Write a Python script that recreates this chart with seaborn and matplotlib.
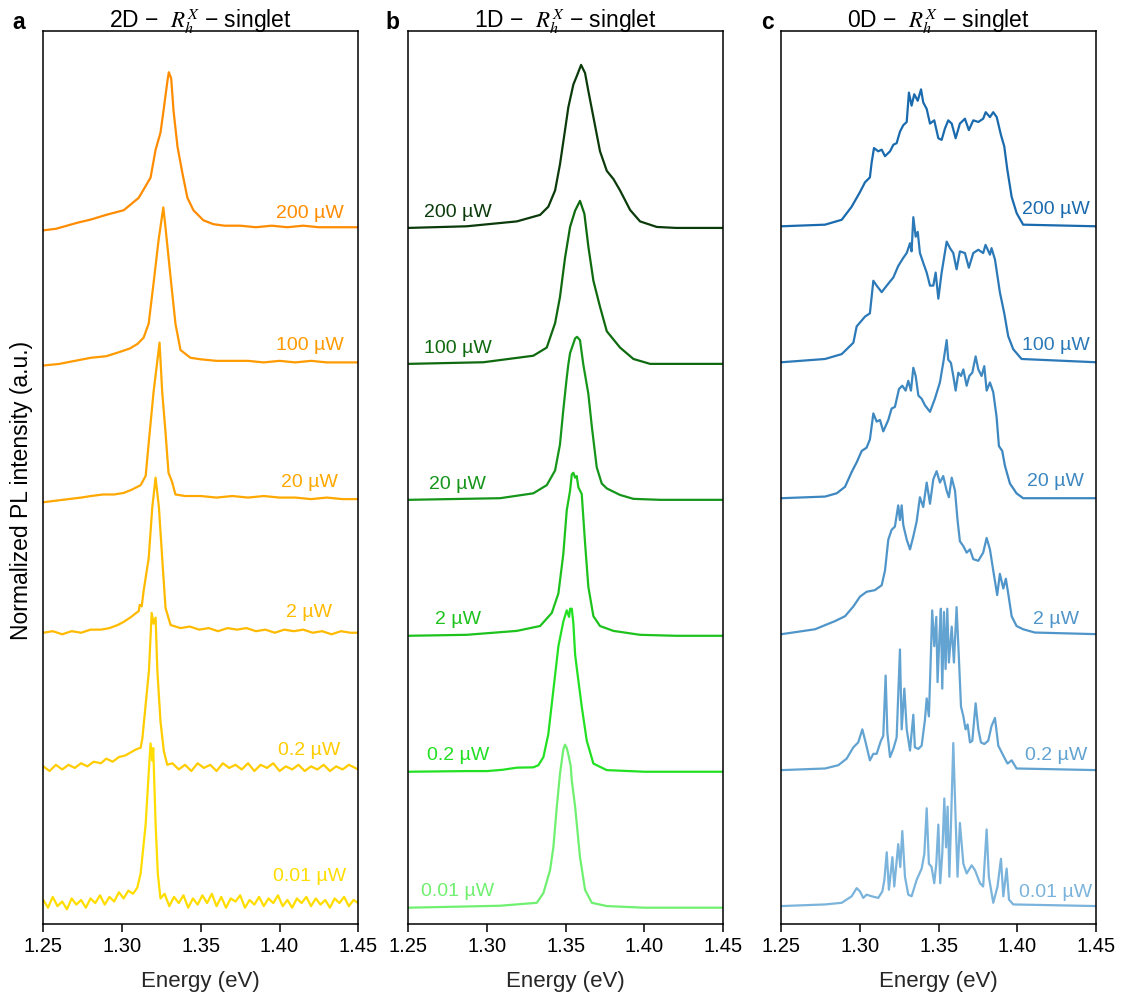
import matplotlib
matplotlib.use("Agg")
import matplotlib.pyplot as plt
import pandas as pd
import seaborn as sns

# ---------------- data (normalized PL intensity vs energy in eV) ----------------
POWERS = ["200 µW", "100 µW", "20 µW", "2 µW", "0.2 µW", "0.01 µW"]
X_TICKS = [1.25, 1.30, 1.35, 1.40, 1.45]

# ---- panel a: 2D ----
a_e_200 = [1.250, 1.258, 1.265, 1.272, 1.2803, 1.290, 1.3011, 1.3106, 1.3181, 1.3213, 1.3244, 1.3263,
           1.3289, 1.3297, 1.3312, 1.3327, 1.3352, 1.3383, 1.3415, 1.3453, 1.3516, 1.3579, 1.365, 1.375,
           1.385, 1.395, 1.405, 1.415, 1.425, 1.435, 1.450]
a_i_200 = [-0.02, -0.01, 0.01, 0.03, 0.05, 0.08, 0.11, 0.19, 0.32, 0.50, 0.61, 0.75,
           0.95, 1.0, 0.96, 0.75, 0.52, 0.35, 0.19, 0.11, 0.045, 0.02, 0.01, 0.01,
           0.0, 0.01, 0.0, 0.01, 0.0, 0.0, 0.0]
a_e_100 = [1.250, 1.260, 1.270, 1.2803, 1.290, 1.2978, 1.305, 1.3099, 1.3137, 1.3169, 1.3200, 1.3232,
           1.3262, 1.3276, 1.3308, 1.3339, 1.3371, 1.3434, 1.350, 1.360, 1.370, 1.380, 1.390, 1.400,
           1.410, 1.420, 1.430, 1.440, 1.450]
a_i_100 = [-0.02, -0.01, 0.01, 0.03, 0.04, 0.065, 0.09, 0.12, 0.16, 0.25, 0.51, 0.79,
           1.0, 0.87, 0.55, 0.25, 0.08, 0.03, 0.02, 0.01, 0.01, 0.01, 0.0, 0.01,
           0.0, 0.01, 0.0, 0.0, 0.0]
a_e_20 = [1.250, 1.258, 1.266, 1.274, 1.2803, 1.288, 1.295, 1.3011, 1.306, 1.3118, 1.3150, 1.3169,
          1.3200, 1.3238, 1.3255, 1.3276, 1.3295, 1.3318, 1.3339, 1.340, 1.350, 1.360, 1.370, 1.380,
          1.390, 1.400, 1.410, 1.420, 1.430, 1.440, 1.450]
a_i_20 = [-0.03, -0.02, -0.01, 0.0, 0.01, 0.02, 0.02, 0.03, 0.05, 0.08, 0.14, 0.35,
          0.68, 1.0, 0.68, 0.42, 0.16, 0.10, 0.02, 0.01, 0.01, 0.0, 0.01, 0.0,
          0.01, 0.0, 0.0, -0.01, 0.0, -0.01, -0.01]
a_e_2 = [1.250, 1.256, 1.262, 1.268, 1.274, 1.280, 1.2866, 1.292, 1.2973, 1.301, 1.3055, 1.308,
         1.3106, 1.3112, 1.3125, 1.3137, 1.3169, 1.3192, 1.3213, 1.3234, 1.3255, 1.3276, 1.3308, 1.3371,
         1.343, 1.349, 1.355, 1.361, 1.367, 1.373, 1.379, 1.385, 1.391, 1.397, 1.403, 1.409,
         1.415, 1.421, 1.427, 1.433, 1.439, 1.445, 1.450]
a_i_2 = [0.0, 0.01, -0.01, 0.01, 0.0, 0.02, 0.02, 0.03, 0.05, 0.07, 0.10, 0.12,
         0.14, 0.18, 0.17, 0.27, 0.48, 0.81, 1.0, 0.81, 0.48, 0.16, 0.05, 0.03,
         0.04, 0.02, 0.03, 0.01, 0.03, 0.02, 0.03, 0.01, 0.02, 0.0, 0.02, 0.01,
         0.02, 0.0, 0.01, -0.01, 0.01, 0.0, 0.0]
a_e_02 = [1.250, 1.254, 1.258, 1.262, 1.266, 1.270, 1.274, 1.278, 1.282, 1.2866,
          1.290, 1.294, 1.298, 1.302, 1.3055, 1.309, 1.3118, 1.3129, 1.3150, 1.3171,
          1.3188, 1.3200, 1.3213, 1.3224, 1.3244, 1.3265, 1.3287,
          1.332, 1.336, 1.340, 1.344, 1.348, 1.352, 1.356, 1.360, 1.364, 1.368, 1.372, 1.376,
          1.380, 1.384, 1.388, 1.392, 1.396, 1.400, 1.404, 1.408, 1.412, 1.416, 1.420, 1.424,
          1.428, 1.432, 1.436, 1.440, 1.444, 1.450]
a_i_02 = [0.01, -0.02, 0.02, -0.01, 0.02, 0.0, 0.03, 0.01, 0.04, 0.03,
          0.06, 0.04, 0.07, 0.08, 0.10, 0.12, 0.13, 0.19, 0.41, 0.63,
          1.0, 0.93, 0.97, 0.63, 0.30, 0.11, 0.02,
          0.03, -0.01, 0.02, -0.02, 0.03, 0.0, 0.02, -0.02, 0.03, 0.0, 0.02, -0.01,
          0.03, -0.02, 0.02, 0.0, 0.03, -0.02, 0.01, -0.01, 0.02, -0.02, 0.01, -0.01,
          0.02, -0.02, 0.01, -0.01, 0.02, -0.01]
a_e_001 = [1.250, 1.253, 1.256, 1.259, 1.262, 1.265, 1.268, 1.271, 1.274, 1.277,
           1.280, 1.283, 1.286, 1.289, 1.292, 1.295, 1.298, 1.301, 1.304, 1.307,
           1.3097, 1.3118, 1.3150, 1.3171, 1.3181, 1.3192, 1.3198, 1.3213, 1.3227, 1.3244,
           1.327, 1.330, 1.333, 1.336, 1.339, 1.342, 1.345, 1.348, 1.351, 1.354,
           1.357, 1.360, 1.363, 1.366, 1.369, 1.372, 1.375, 1.378, 1.381, 1.384,
           1.387, 1.390, 1.393, 1.396, 1.399, 1.402, 1.405, 1.408, 1.411, 1.414,
           1.417, 1.420, 1.423, 1.426, 1.429, 1.432, 1.435, 1.438, 1.441, 1.444,
           1.447, 1.450]
a_i_001 = [0.02, -0.03, 0.04, -0.02, 0.01, -0.04, 0.03, -0.01, 0.02, -0.03,
           0.03, 0.0, 0.05, -0.01, 0.04, 0.01, 0.07, 0.03, 0.08, 0.06,
           0.10, 0.19, 0.51, 0.87, 1.03, 0.92, 1.0, 0.51, 0.19, 0.03,
           0.06, -0.02, 0.04, 0.0, 0.05, -0.03, 0.03, -0.01, 0.05, 0.0,
           0.06, -0.02, 0.04, -0.03, 0.03, 0.01, 0.05, -0.03, 0.02, -0.01,
           0.04, -0.02, 0.03, 0.0, 0.05, -0.02, 0.02, -0.03, 0.03, 0.0,
           0.04, -0.02, 0.03, -0.01, 0.02, -0.03, 0.03, 0.0, 0.04, -0.02,
           0.02, 0.0]

# ---- panel b: 1D ----
b_e_200 = [1.2502, 1.2872, 1.3190, 1.3338, 1.3390, 1.3433, 1.3464, 1.3496, 1.3517, 1.3549, 1.3570, 1.3598,
           1.3623, 1.3644, 1.3676, 1.3718, 1.3761, 1.3803, 1.3845, 1.3909, 1.3972, 1.4078, 1.4200, 1.4500]
b_i_200 = [0, 0.01, 0.04, 0.08, 0.13, 0.23, 0.39, 0.60, 0.74, 0.88, 0.93, 1.0,
           0.95, 0.84, 0.68, 0.47, 0.35, 0.30, 0.23, 0.11, 0.04, 0.006, 0, 0]
b_e_100 = [1.2502, 1.2978, 1.3295, 1.3380, 1.3433, 1.3464, 1.3496, 1.3528, 1.3560, 1.3591,
           1.3619, 1.3644, 1.3676, 1.3718, 1.3761, 1.3803, 1.3845, 1.3930, 1.4036, 1.4500]
b_i_100 = [0, 0.01, 0.05, 0.10, 0.25, 0.41, 0.65, 0.84, 0.94, 1.0,
           0.92, 0.72, 0.51, 0.35, 0.20, 0.15, 0.10, 0.03, 0.0, 0]
b_e_20 = [1.2502, 1.3084, 1.3295, 1.3380, 1.3433, 1.3464, 1.3485, 1.3507, 1.3517, 1.3528, 1.3560, 1.3572,
          1.3591, 1.3612, 1.3644, 1.3666, 1.3697, 1.3729, 1.3761, 1.3803, 1.3845, 1.3930, 1.4100, 1.4500]
b_i_20 = [0, 0.01, 0.04, 0.09, 0.18, 0.34, 0.55, 0.75, 0.83, 0.90, 0.99, 1.0,
          0.98, 0.83, 0.65, 0.45, 0.20, 0.10, 0.07, 0.05, 0.03, 0.006, 0, 0]
b_e_2 = [1.2502, 1.2872, 1.3190, 1.3338, 1.3412, 1.3454, 1.3485, 1.3507, 1.3528, 1.3539, 1.3549, 1.3560,
         1.3570, 1.3581, 1.3602, 1.3623, 1.3644, 1.3676, 1.3718, 1.3803, 1.3972, 1.4200, 1.4500]
b_i_2 = [0, 0.006, 0.03, 0.06, 0.14, 0.26, 0.50, 0.77, 0.89, 0.99, 1.0, 0.97,
         0.98, 0.91, 0.87, 0.57, 0.30, 0.12, 0.06, 0.03, 0.006, 0, 0]
b_e_02 = [1.2502, 1.2872, 1.3000, 1.3100, 1.3190, 1.3295, 1.3327, 1.3359, 1.3390, 1.3422, 1.3454, 1.3485,
          1.3507, 1.3522, 1.3528, 1.3539, 1.3549, 1.3560, 1.3570, 1.3602, 1.3634, 1.3676, 1.3761, 1.4000,
          1.4500]
b_i_02 = [0, 0.004, 0.004, 0.012, 0.025, 0.027, 0.04, 0.09, 0.23, 0.50, 0.77, 0.92,
          0.99, 0.95, 1.0, 1.0, 0.91, 0.72, 0.64, 0.40, 0.19, 0.05, 0.01, 0,
          0]
b_e_001 = [1.2502, 1.2800, 1.3084, 1.3317, 1.3359, 1.3401, 1.3422, 1.3444, 1.3464, 1.3485, 1.3496,
           1.3507, 1.3517, 1.3532, 1.3539, 1.3560, 1.3591, 1.3623, 1.3666, 1.3761, 1.4000, 1.4500]
b_i_001 = [0, 0.006, 0.012, 0.03, 0.09, 0.23, 0.37, 0.62, 0.82, 0.97, 1.0,
           0.98, 0.94, 0.87, 0.78, 0.62, 0.31, 0.11, 0.03, 0.01, 0, 0]

# ---- panel c: 0D ----
c_e_200 = [1.2502, 1.2778, 1.2884, 1.2947, 1.3000, 1.3032, 1.3063, 1.3074, 1.3089, 1.3116,
           1.3138, 1.3159, 1.3191, 1.3212, 1.3233, 1.3254, 1.3275, 1.3297, 1.3311, 1.3328,
           1.3345, 1.3367, 1.3388, 1.3402, 1.3424, 1.3445, 1.3472, 1.3498, 1.3519, 1.3540,
           1.3561, 1.3583, 1.3608, 1.3635, 1.3667, 1.3692, 1.3720, 1.3752, 1.3783, 1.3799,
           1.3826, 1.3847, 1.3869, 1.3896, 1.3917, 1.3936, 1.3964, 1.3996, 1.4037, 1.4500]
c_i_200 = [0, 0.01, 0.04, 0.12, 0.21, 0.27, 0.30, 0.39, 0.48, 0.46,
           0.47, 0.43, 0.46, 0.50, 0.51, 0.58, 0.62, 0.64, 0.82, 0.74,
           0.81, 0.77, 0.84, 0.76, 0.72, 0.63, 0.65, 0.54, 0.53, 0.60,
           0.65, 0.63, 0.54, 0.63, 0.66, 0.59, 0.65, 0.64, 0.66, 0.70,
           0.67, 0.70, 0.67, 0.56, 0.49, 0.35, 0.18, 0.08, 0.01, 0]
c_e_100 = [1.2502, 1.2778, 1.2884, 1.2958, 1.2979, 1.3032, 1.3063, 1.3085, 1.3106, 1.3138,
           1.3170, 1.3212, 1.3243, 1.3275, 1.3297, 1.3318, 1.3328, 1.3339, 1.3354, 1.3367,
           1.3381, 1.3402, 1.3424, 1.3445, 1.3466, 1.3481, 1.3498, 1.3519, 1.3551, 1.3572,
           1.3593, 1.3614, 1.3635, 1.3667, 1.3692, 1.3720, 1.3752, 1.3783, 1.3798, 1.3826,
           1.3836, 1.3858, 1.3889, 1.3917, 1.3942, 1.3974, 1.4027, 1.4500]
c_i_100 = [0, 0.02, 0.05, 0.12, 0.22, 0.28, 0.30, 0.50, 0.47, 0.43,
           0.47, 0.52, 0.59, 0.64, 0.67, 0.73, 0.68, 0.89, 0.77, 0.80,
           0.67, 0.61, 0.55, 0.47, 0.47, 0.55, 0.39, 0.55, 0.74, 0.70,
           0.67, 0.57, 0.68, 0.67, 0.58, 0.67, 0.69, 0.67, 0.72, 0.66,
           0.70, 0.63, 0.43, 0.30, 0.16, 0.08, 0.02, 0]
c_e_20 = [1.2502, 1.2778, 1.2852, 1.2905, 1.2947, 1.2979, 1.3011, 1.3042, 1.3063, 1.3085,
          1.3106, 1.3127, 1.3148, 1.3180, 1.3201, 1.3222, 1.3248, 1.3269, 1.3290, 1.3307,
          1.3324, 1.3339, 1.3354, 1.3371, 1.3392, 1.3413, 1.3445, 1.3476, 1.3508, 1.3529,
          1.3551, 1.3561, 1.3578, 1.3593, 1.3608, 1.3625, 1.3642, 1.3657, 1.3678, 1.3695,
          1.3714, 1.3735, 1.3752, 1.3773, 1.3790, 1.3805, 1.3826, 1.3847, 1.3868, 1.3883,
          1.3904, 1.3921, 1.3953, 1.3995, 1.4037, 1.4500]
c_i_20 = [0, 0.01, 0.03, 0.07, 0.16, 0.22, 0.29, 0.31, 0.36, 0.52,
          0.47, 0.48, 0.41, 0.48, 0.55, 0.56, 0.67, 0.69, 0.66, 0.72,
          0.66, 0.80, 0.75, 0.63, 0.61, 0.57, 0.53, 0.61, 0.71, 0.83,
          0.97, 0.85, 0.83, 0.75, 0.66, 0.77, 0.75, 0.79, 0.69, 0.75,
          0.77, 0.87, 0.79, 0.75, 0.81, 0.66, 0.71, 0.65, 0.50, 0.32,
          0.29, 0.20, 0.09, 0.03, 0.0, 0]
c_e_2 = [1.2502, 1.2714, 1.2841, 1.2905, 1.2958, 1.3000, 1.3042, 1.3095, 1.3138, 1.3159,
         1.3180, 1.3201, 1.3222, 1.3243, 1.3254, 1.3265, 1.3275, 1.3297, 1.3318, 1.3339,
         1.3360, 1.3381, 1.3402, 1.3424, 1.3445, 1.3466, 1.3487, 1.3508, 1.3529, 1.3551,
         1.3565, 1.3583, 1.3604, 1.3620, 1.3635, 1.3657, 1.3678, 1.3699, 1.3720, 1.3752,
         1.3783, 1.3805, 1.3826, 1.3847, 1.3872, 1.3889, 1.3911, 1.3927, 1.3942, 1.3964,
         1.3995, 1.4037, 1.4111, 1.4500]
c_i_2 = [0, 0.03, 0.08, 0.11, 0.17, 0.23, 0.26, 0.27, 0.30, 0.39,
         0.58, 0.64, 0.66, 0.79, 0.70, 0.79, 0.67, 0.58, 0.52, 0.60,
         0.69, 0.84, 0.78, 0.93, 0.80, 0.95, 1.0, 0.93, 0.97, 0.88,
         0.84, 0.96, 0.88, 0.70, 0.57, 0.54, 0.50, 0.52, 0.46, 0.45,
         0.50, 0.59, 0.52, 0.39, 0.24, 0.37, 0.28, 0.34, 0.25, 0.11,
         0.05, 0.03, 0.01, 0]
c_e_02 = [1.2502, 1.2778, 1.2862, 1.2915, 1.2958, 1.2989, 1.3015, 1.3036, 1.3063, 1.3085,
          1.3106, 1.3133, 1.3148, 1.3163, 1.3174, 1.3191, 1.3212, 1.3233, 1.3254, 1.3265,
          1.3282, 1.3297, 1.3318, 1.3339, 1.3349, 1.3371, 1.3392, 1.3413, 1.3424, 1.3438,
          1.3451, 1.3459, 1.3472, 1.3485, 1.3493, 1.3506, 1.3514, 1.3523, 1.3534, 1.3544,
          1.3555, 1.3565, 1.3583, 1.3597, 1.3614, 1.3629, 1.3642, 1.3657, 1.3671, 1.3684,
          1.3699, 1.3714, 1.3735, 1.3752, 1.3769, 1.3790, 1.3815, 1.3836, 1.3858, 1.3879,
          1.3900, 1.3921, 1.3938, 1.3964, 1.3995, 1.4500]
c_i_02 = [0, 0.01, 0.03, 0.07, 0.14, 0.17, 0.25, 0.17, 0.06, 0.10,
          0.10, 0.18, 0.21, 0.58, 0.23, 0.08, 0.13, 0.20, 0.74, 0.25,
          0.50, 0.25, 0.12, 0.34, 0.14, 0.13, 0.15, 0.31, 0.44, 0.33,
          0.72, 0.98, 0.76, 0.94, 0.54, 0.84, 0.99, 0.50, 0.97, 0.62,
          0.99, 0.66, 0.88, 0.66, 1.0, 0.68, 0.39, 0.33, 0.25, 0.28,
          0.17, 0.18, 0.41, 0.25, 0.17, 0.16, 0.18, 0.27, 0.32, 0.15,
          0.11, 0.07, 0.04, 0.06, 0.01, 0]
c_e_001 = [1.2502, 1.2778, 1.2884, 1.2947, 1.2979, 1.3000, 1.3021, 1.3042, 1.3074, 1.3116,
           1.3142, 1.3155, 1.3170, 1.3184, 1.3206, 1.3218, 1.3243, 1.3256, 1.3269, 1.3286,
           1.3307, 1.3328, 1.3360, 1.3392, 1.3409, 1.3424, 1.3438, 1.3455, 1.3472, 1.3485,
           1.3498, 1.3510, 1.3523, 1.3536, 1.3547, 1.3557, 1.3568, 1.3578, 1.3593, 1.3608,
           1.3620, 1.3635, 1.3657, 1.3678, 1.3710, 1.3731, 1.3763, 1.3783, 1.3805, 1.3819,
           1.3847, 1.3874, 1.3896, 1.3911, 1.3932, 1.3947, 1.3974, 1.4500]
c_i_001 = [0, 0.01, 0.02, 0.06, 0.11, 0.09, 0.05, 0.07, 0.06, 0.05,
           0.09, 0.16, 0.33, 0.10, 0.30, 0.12, 0.38, 0.24, 0.46, 0.18,
           0.07, 0.06, 0.16, 0.23, 0.32, 0.60, 0.26, 0.24, 0.14, 0.26,
           0.50, 0.14, 0.32, 0.66, 0.36, 0.61, 0.18, 0.49, 1.0, 0.53,
           0.18, 0.51, 0.26, 0.20, 0.25, 0.22, 0.14, 0.12, 0.47, 0.18,
           0.02, 0.12, 0.29, 0.06, 0.23, 0.04, 0.01, 0]

A_COLORS = ["#FF8C00", "#FF9A00", "#FFA800", "#FFBA00", "#FFCC00", "#FFDD00"]
B_COLORS = ["#0B3B0B", "#0F6A0F", "#15951A", "#1DC21D", "#22E022", "#70F070"]
C_COLORS = ["#1A6AAE", "#2C79B8", "#3D87C1", "#4F95C9", "#62A3D1", "#7AB3DB"]

# ---------------- style ----------------
sns.set_style("ticks")
plt.rcParams["font.family"] = ["Liberation Sans", "DejaVu Sans"]
plt.rcParams["mathtext.fontset"] = "stix"
plt.rcParams["axes.edgecolor"] = "black"
plt.rcParams["xtick.color"] = "black"
plt.rcParams["text.color"] = "black"

W, H = 1127, 1001
fig = plt.figure(figsize=(W / 100, H / 100), dpi=100)

AX_TOP, AX_BOT = 31, 924
panels = [
    dict(letter="a", letter_x=19, dim="2D", left=43.3, right=358.3,
         curves=[(a_e_200, a_i_200), (a_e_100, a_i_100), (a_e_20, a_i_20),
                 (a_e_2, a_i_2), (a_e_02, a_i_02), (a_e_001, a_i_001)],
         colors=A_COLORS, step=0.872, ylim=(-0.135, 5.626),
         lab_x=1.419, lab_dy=[0.09, 0.11, 0.10, 0.13, 0.11, 0.17]),
    dict(letter="b", letter_x=392, dim="1D", left=408, right=723.3,
         curves=[(b_e_200, b_i_200), (b_e_100, b_i_100), (b_e_20, b_i_20),
                 (b_e_2, b_i_2), (b_e_02, b_i_02), (b_e_001, b_i_001)],
         colors=B_COLORS, step=0.834, ylim=(-0.100, 5.378),
         lab_x=1.2815, lab_dy=[0.097] * 6),
    dict(letter="c", letter_x=767, dim="0D", left=781.3, right=1096,
         curves=[(c_e_200, c_i_200), (c_e_100, c_i_100), (c_e_20, c_i_20),
                 (c_e_2, c_i_2), (c_e_02, c_i_02), (c_e_001, c_i_001)],
         colors=C_COLORS, step=0.834, ylim=(-0.110, 5.368),
         lab_x=1.4245, lab_dy=[0.10, 0.10, 0.10, 0.09, 0.09, 0.085]),
]

n = len(POWERS)
for p in panels:
    rect = [p["left"] / W, (H - AX_BOT) / H, (p["right"] - p["left"]) / W, (AX_BOT - AX_TOP) / H]
    ax = fig.add_axes(rect)
    rows = []
    for k, (pw, (e, i)) in enumerate(zip(POWERS, p["curves"])):
        off = p["step"] * (n - 1 - k)
        for x, y in zip(e, i):
            rows.append((pw, x, y + off))
    df = pd.DataFrame(rows, columns=["power", "energy", "signal"])
    sns.lineplot(data=df, x="energy", y="signal", hue="power", hue_order=POWERS,
                 palette=p["colors"], estimator=None, sort=False, legend=False,
                 linewidth=1.6, ax=ax)
    for k, pw in enumerate(POWERS):
        off = p["step"] * (n - 1 - k)
        ax.text(p["lab_x"], off + p["lab_dy"][k], pw, color=p["colors"][k],
                ha="center", va="center", fontsize=14)
    ax.set_xlim(1.25, 1.45)
    ax.set_ylim(*p["ylim"])
    ax.set_yticks([])
    ax.set_xticks(X_TICKS)
    ax.set_xticklabels([f"{t:.2f}" for t in X_TICKS], fontsize=14.5)
    ax.tick_params(axis="x", direction="out", length=5.5, width=1.1, pad=3.5)
    ax.set_xlabel("Energy (eV)", fontsize=16, labelpad=11.5)
    ax.set_ylabel("")
    for s in ax.spines.values():
        s.set_visible(True)
        s.set_linewidth(1.1)
        s.set_color("black")
    ax.text(0.5, 1.0 + 3 / (AX_BOT - AX_TOP), f"{p['dim']} −  $R_h^X$ − singlet",
            transform=ax.transAxes, ha="center", va="baseline", fontsize=16.5)
    fig.text(p["letter_x"] / W, 1 - 29 / H, p["letter"], fontsize=16.5,
             fontweight="bold", ha="center", va="baseline")

fig.text(22 / W, 1 - 490 / H, "Normalized PL intensity (a.u.)", rotation=90,
         ha="center", va="center", fontsize=16.5)

fig.savefig("out.png", dpi=100)
